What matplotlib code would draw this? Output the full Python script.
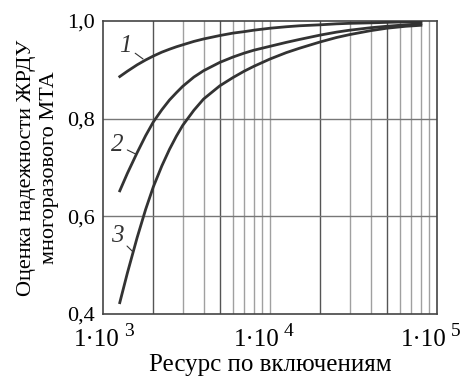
import matplotlib
matplotlib.use("Agg")
import matplotlib.pyplot as plt
import matplotlib.transforms as mtransforms
from matplotlib.ticker import FixedLocator, NullFormatter

plt.rcParams['font.family'] = ['Liberation Serif', 'DejaVu Serif']

# Ресурс по включениям
resource = [1260, 1400, 1600, 1800, 2000, 2250, 2500, 2750, 3000, 3500,
            4000, 5000, 6000, 7000, 8000, 10000, 12500, 15000, 20000,
            25000, 30000, 40000, 50000, 65000, 80000]
# Оценка надежности для трех вариантов
curve_1 = [0.886, 0.897, 0.910, 0.920, 0.928, 0.936, 0.942, 0.947, 0.951,
           0.958, 0.963, 0.970, 0.975, 0.978, 0.981, 0.985, 0.988, 0.990,
           0.992, 0.994, 0.995, 0.996, 0.997, 0.998, 0.998]
curve_2 = [0.652, 0.688, 0.730, 0.765, 0.793, 0.818, 0.838, 0.853, 0.866,
           0.885, 0.898, 0.915, 0.926, 0.934, 0.940, 0.948, 0.956, 0.962,
           0.971, 0.977, 0.981, 0.986, 0.989, 0.992, 0.994]
curve_3 = [0.423, 0.484, 0.556, 0.614, 0.660, 0.703, 0.737, 0.764, 0.786,
           0.817, 0.840, 0.867, 0.884, 0.897, 0.907, 0.922, 0.935, 0.944,
           0.957, 0.966, 0.972, 0.980, 0.985, 0.989, 0.991]

x_ticks = [1e3, 1e4, 1e5]
x_tick_exps = ['3', '4', '5']
y_ticks = [0.4, 0.6, 0.8, 1.0]
y_tick_labels = ['0,4', '0,6', '0,8', '1,0']

fig = plt.figure(figsize=(4.64, 3.8), dpi=100)
ax = fig.add_axes([0.222, 0.174, 0.72, 0.771])

ax.set_xscale('log')
ax.set_xlim(1e3, 1e5)
ax.set_ylim(0.4, 1.0)

# Сетка: вертикальные линии на каждом целом значении
for dec in [1e3, 1e4]:
    for k in range(2, 11):
        v = dec * k
        if v >= 1e5:
            continue
        dark = k in (2, 5)
        ax.axvline(v, color='#555555' if dark else '#a0a0a0', lw=1.0, zorder=1)
for yv in [0.6, 0.8]:
    ax.axhline(yv, color='#777777', lw=1.0, zorder=1)

line_color = '#333333'
for data in (curve_1, curve_2, curve_3):
    ax.plot(resource, data, color=line_color, lw=2.0, zorder=3)

ax.xaxis.set_major_locator(FixedLocator(x_ticks))
ax.xaxis.set_minor_formatter(NullFormatter())
ax.set_xticks(x_ticks)
ax.set_xticklabels([''] * len(x_ticks))
ax.set_yticks(y_ticks)
ax.set_yticklabels(y_tick_labels)
ax.tick_params(axis='both', which='both', length=0)
ax.tick_params(axis='y', labelsize=16, pad=6)

# Подписи оси X вида 1·10 со степенью
xtrans = ax.get_xaxis_transform()
for xv, exp, dx in zip(x_ticks, x_tick_exps, [17, 10, 10]):
    t_main = mtransforms.offset_copy(xtrans, fig=fig, x=dx * 0.72, y=-32 * 0.72,
                                     units='points')
    ax.text(xv, 0, '1·10', transform=t_main, ha='right', va='baseline',
            fontsize=18, clip_on=False)
    t_exp = mtransforms.offset_copy(xtrans, fig=fig, x=(dx + 4) * 0.72,
                                    y=-22 * 0.72, units='points')
    ax.text(xv, 0, exp, transform=t_exp, ha='left', va='baseline',
            fontsize=14, clip_on=False)

for s in ax.spines.values():
    s.set_color('#444444')
    s.set_linewidth(1.2)

ax.set_xlabel('Ресурс по включениям', fontsize=18, va='center')
ax.xaxis.set_label_coords(0.5, -51 / 293)
ax.set_ylabel('Оценка надежности ЖРДУ\nмногоразового МТА', fontsize=16,
              linespacing=1.3, va='center')
ax.yaxis.set_label_coords(-65 / 334, 0.5)

# Номера кривых с выносками
labels = [('1', (1355, 0.949), (1737, 0.922)),
          ('2', (1213, 0.746), (1577, 0.727)),
          ('3', (1213, 0.559), (1512, 0.527))]
for txt, tpos, ppos in labels:
    ax.annotate(txt, xy=ppos, xytext=tpos, ha='center', va='center',
                fontsize=18, fontstyle='italic', color='#333333',
                arrowprops=dict(arrowstyle='-', color='#333333', lw=0.8,
                                shrinkA=1, shrinkB=0))

fig.savefig('out.png', dpi=100)
